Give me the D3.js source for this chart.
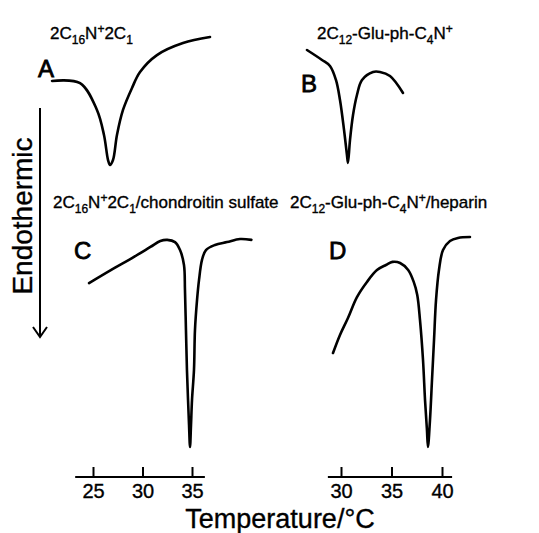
<!DOCTYPE html>
<html>
<head>
<meta charset="utf-8">
<script src="https://cdn.jsdelivr.net/npm/d3@7"></script>
<style>
  html, body { margin: 0; padding: 0; background: #fff; }
  svg { display: block; font-family: "Liberation Sans", Arial, sans-serif; }
  text { fill: #000; stroke: #000; stroke-width: 0.35px; }
</style>
</head>
<body>
<svg id="chart" width="539" height="533"></svg>
<script>
// temperature axes (°C)
var ticksLeft = [25, 30, 35];
var ticksRight = [30, 35, 40];
var axisSpanLeft = [23.2, 36.3];
var axisSpanRight = [28.7, 41.0];

// DSC traces: temperature (°C) and heat flow (arbitrary units, down = endothermic)
var tempA = [20.86, 23.69, 25.40, 26.11, 26.52, 26.72, 27.02, 27.42, 28.03, 28.94, 29.75, 31.46, 34.09, 36.82];
var heatA = [63.6, 62.1, 42.9, 25.0, 7.1, 3.6, 7.1, 25.0, 42.9, 58.6, 70.0, 82.1, 90.7, 95.0];

var tempB = [26.63, 28.12, 28.91, 29.50, 29.90, 30.30, 30.59, 30.69, 30.89, 31.19, 31.58, 32.08, 33.17, 33.86, 34.85, 36.14];
var heatB = [85.7, 78.6, 74.3, 64.3, 50.0, 28.6, 10.7, 5.0, 21.4, 39.3, 53.6, 64.3, 70.0, 70.0, 67.1, 55.0];

var tempC = [24.6, 26.8, 29.1, 30.8, 31.8, 32.5, 33.28, 33.79, 34.19, 34.29, 34.39, 34.49, 34.60, 34.70, 34.80,
             34.90, 35.00, 35.20, 35.30, 35.51, 35.71, 36.01, 36.41, 37.32, 38.54, 39.85, 41.0];
var heatC = [75.9, 81.8, 87.7, 92.3, 95.0, 95.5, 94.5, 90.9, 84.1, 72.7, 54.5, 36.4, 22.7, 11.4, 1.4,
             11.4, 22.7, 36.4, 54.5, 68.2, 77.3, 86.4, 90.9, 93.2, 94.5, 95.9, 95.5];

var tempD = [29.21, 29.90, 30.69, 31.58, 32.57, 33.56, 34.45, 35.1, 35.85, 36.65, 37.2, 37.55, 37.82, 38.12, 38.32, 38.51, 38.61,
             38.81, 39.01, 39.21, 39.41, 39.70, 40.10, 40.79, 41.58, 42.77];
var heatD = [44.1, 52.3, 60.0, 69.5, 76.4, 81.8, 84.1, 85.5, 85.0, 81.8, 76.4, 70.5, 59.1, 40.9, 22.7, 9.1, 1.4,
             13.6, 31.8, 50.0, 68.2, 81.8, 90.9, 95.0, 96.4, 96.8];

var svg = d3.select("#chart");

var xL = d3.scaleLinear().domain([25, 35]).range([93, 192]);
var xR = d3.scaleLinear().domain([30, 40]).range([341, 442]);
var yTop = d3.scaleLinear().domain([0, 100]).range([170, 30]);
var yBot = d3.scaleLinear().domain([0, 100]).range([450, 230]);

function trace(temps, heats, x, y) {
    var line = d3.line()
        .x(function (d) { return x(d[0]); })
        .y(function (d) { return y(d[1]); })
        .curve(d3.curveCatmullRom.alpha(0.5));
    svg.append("path")
        .attr("d", line(d3.zip(temps, heats)))
        .attr("fill", "none")
        .attr("stroke", "#000")
        .attr("stroke-width", 2.6)
        .attr("stroke-linejoin", "round")
        .attr("stroke-linecap", "round");
}

trace(tempA, heatA, xL, yTop);
trace(tempB, heatB, xR, yTop);
trace(tempC, heatC, xL, yBot);
trace(tempD, heatD, xR, yBot);

// bottom temperature axes, ticks pointing up
function tempAxis(x, ticks, span) {
    var g = svg.append("g").attr("transform", "translate(0,477)");
    g.call(d3.axisBottom(x).tickValues(ticks).tickSize(-10).tickPadding(7));
    g.select(".domain").remove();
    g.selectAll(".tick line").attr("stroke", "#000").attr("stroke-width", 2);
    g.selectAll(".tick text")
        .attr("fill", "#000")
        .attr("font-size", 20)
        .attr("font-family", "'Liberation Sans', Arial, sans-serif");
    g.append("line")
        .attr("x1", x(span[0])).attr("x2", x(span[1]))
        .attr("stroke", "#000").attr("stroke-width", 2.2);
}
tempAxis(xL, ticksLeft, axisSpanLeft);
tempAxis(xR, ticksRight, axisSpanRight);

svg.append("text")
    .attr("x", 280).attr("y", 528)
    .attr("text-anchor", "middle")
    .attr("font-size", 27)
    .text("Temperature/°C");

// endothermic arrow
svg.append("line")
    .attr("x1", 40).attr("x2", 40).attr("y1", 108).attr("y2", 336)
    .attr("stroke", "#000").attr("stroke-width", 2);
svg.append("path")
    .attr("d", "M33,327 L40,337 L47,327")
    .attr("fill", "none").attr("stroke", "#000").attr("stroke-width", 2);
svg.append("text")
    .attr("transform", "translate(32,216) rotate(-90)")
    .attr("text-anchor", "middle")
    .attr("font-size", 28)
    .text("Endothermic");

// panel letters
var letters = [["A", 38, 77], ["B", 301, 92], ["C", 74, 259], ["D", 329, 259]];
letters.forEach(function (l) {
    svg.append("text").attr("x", l[1]).attr("y", l[2])
        .attr("font-size", 24).style("stroke-width", "0.8px").text(l[0]);
});

// panel titles with sub/superscripts: [text, shift] shift -1 = subscript, 1 = superscript
function title(x, y, parts) {
    var t = svg.append("text").attr("x", x).attr("y", y).attr("font-size", 17);
    var cur = 0;
    parts.forEach(function (p) {
        var target = p[1] === -1 ? 5 : p[1] === 1 ? -6 : 0;
        t.append("tspan")
            .attr("dy", target - cur)
            .attr("font-size", p[1] === 0 ? 17 : 12)
            .text(p[0]);
        cur = target;
    });
}
title(50, 39, [["2C", 0], ["16", -1], ["N", 0], ["+", 1], ["2C", 0], ["1", -1]]);
title(317, 39, [["2C", 0], ["12", -1], ["-Glu-ph-C", 0], ["4", -1], ["N", 0], ["+", 1]]);
title(53, 208, [["2C", 0], ["16", -1], ["N", 0], ["+", 1], ["2C", 0], ["1", -1], ["/chondroitin sulfate", 0]]);
title(290, 208, [["2C", 0], ["12", -1], ["-Glu-ph-C", 0], ["4", -1], ["N", 0], ["+", 1], ["/heparin", 0]]);
</script>
</body>
</html>
